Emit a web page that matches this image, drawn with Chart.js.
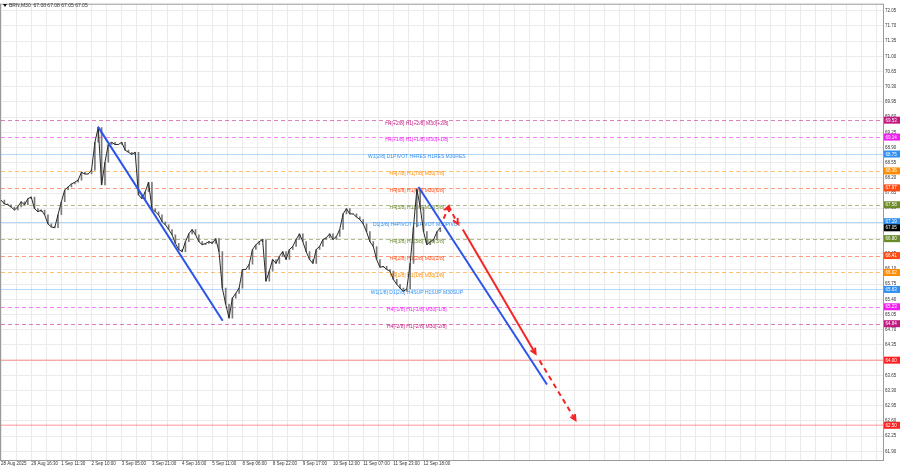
<!DOCTYPE html>
<html>
<head>
<meta charset="utf-8">
<script src="https://cdn.jsdelivr.net/npm/chart.js@4.4.1/dist/chart.umd.min.js"></script>
<style>
  html, body { margin: 0; padding: 0; background: #fff; }
</style>
</head>
<body>
<canvas id="chart" width="900" height="468"></canvas>
<script>
// price path, one close every ~3.4px of the picture
const closes = [
  67.69, 67.60, 67.58, 67.53, 67.46, 67.53, 67.65, 67.58, 67.72, 67.76,
  67.49, 67.42, 67.46, 67.35, 67.14, 67.07, 67.05, 67.35, 67.65, 67.92,
  67.99, 68.06, 68.10, 68.15, 68.33, 68.29, 68.29, 68.38, 69.02, 69.36,
  68.04, 68.56, 68.97, 69.02, 68.97, 68.97, 69.02, 68.84, 68.79, 68.74,
  68.79, 67.81, 67.72, 67.88, 68.10, 67.49, 67.42, 67.35, 67.19, 67.12,
  67.01, 66.89, 66.69, 66.55, 66.50, 66.73, 66.91, 67.01, 66.89, 66.73,
  66.66, 66.69, 66.73, 66.69, 66.80, 66.50, 65.66, 65.29, 64.97, 65.43,
  65.54, 65.66, 66.09, 66.09, 66.21, 66.55, 66.66, 66.73, 66.78, 65.82,
  66.05, 66.32, 66.23, 66.39, 66.50, 66.32, 66.55, 66.62, 66.78, 66.91,
  66.73, 66.50, 66.32, 66.23, 66.55, 66.62, 66.78, 66.82, 66.91, 66.78,
  66.85, 67.01, 67.37, 67.49, 67.37, 67.37, 67.30, 67.24, 67.14, 66.96,
  66.73, 66.62, 66.32, 66.14, 66.16, 66.09, 66.05, 65.86, 65.75, 65.66,
  65.59, 65.64, 66.23, 67.07, 67.94, 67.53, 66.96, 66.66, 66.73, 66.78,
  66.96, 67.05
];

const timeLabels = [
  "28 Aug 2025", "29 Aug 16:30", "1 Sep 11:30", "2 Sep 10:00", "3 Sep 05:00",
  "3 Sep 21:00", "4 Sep 16:00", "5 Sep 11:00", "8 Sep 06:00", "8 Sep 22:00",
  "9 Sep 17:00", "10 Sep 12:00", "11 Sep 07:00", "11 Sep 23:00", "12 Sep 18:00"
];

const priceTicks = [
  72.05, 71.70, 71.35, 71.00, 70.65, 70.30, 69.95, 69.60, 69.25, 68.90,
  68.55, 68.20, 67.85, 67.50, 67.15, 66.80, 66.45, 66.10, 65.75, 65.40,
  65.05, 64.70, 64.35, 64.00, 63.65, 63.30, 62.95, 62.60, 62.25, 61.90
];

// murrey levels
const levelPrices = [69.53, 69.14, 68.75, 68.36, 67.97, 67.58, 67.19, 66.80, 66.41, 66.02, 65.63, 65.23, 64.84];
const levelNames = [
  "H4[+2/8] H1[+2/8] M30[+2/8]",
  "H4[+1/8] H1[+1/8] M30[+1/8]",
  "W1[2/8] D1PIVOT H4RES H1RES M30RES",
  "H4[7/8] H1[7/8] M30[7/8]",
  "H4[6/8] H1[6/8] M30[6/8]",
  "H4[5/8] H1[5/8] M30[5/8]",
  "D1[3/8] H4PIVOT H1PIVOT M30PIVOT",
  "H4[3/8] H1[3/8] M30[3/8]",
  "H4[2/8] H1[2/8] M30[2/8]",
  "H4[1/8] H1[1/8] M30[1/8]",
  "W1[1/8] D1[2/8] H4SUP H1SUP M30SUP",
  "H4[-1/8] H1[-1/8] M30[-1/8]",
  "H4[-2/8] H1[-2/8] M30[-2/8]"
];
const targetPrices = [64.00, 62.50];
const lastPrice = 67.05;

// trend lines (x in bar units, y in price)
const blueAX = [28.9, 66.1], blueAY = [69.38, 64.91];
const blueBX = [124.5, 162.8], blueBY = [67.99, 63.44];
const redLegsX = [[132.0, 133.5], [133.5, 136.2], [137.7, 159.4], [160.6, 171.3]];
const redLegsY = [[67.26, 67.55], [67.55, 67.14], [67.01, 64.15], [63.99, 62.62]];

// styles
const levelColors = ['#c2187f', '#f21cf2', '#2f8ff0', '#ff8c00', '#ff4a14', '#6b8a2a', '#2f8ff0', '#6b8a2a', '#ff4a14', '#ff8c00', '#2f8ff0', '#f21cf2', '#c2187f'];
const levelSolid = [false, false, true, false, false, false, true, false, false, false, true, false, false];
const redLegDashed = [true, true, false, true];
const FONT = "Liberation Sans";
const X_MAX = 263;
const LABEL_X = 124;

const datasets = [{
  type: 'bar',
  // candle bodies: open = previous close
  data: closes.slice(1).map((c, i) => ({ x: i + 1, y: [closes[i], c] })),
  backgroundColor: '#7a7a7a', barThickness: 1, borderWidth: 0, order: 2
}, {
  data: closes.map((c, i) => ({ x: i, y: c })),
  borderColor: '#2a2a2a', borderWidth: 1, pointRadius: 0, tension: 0, order: 1
}, {
  data: blueAX.map((x, i) => ({ x: x, y: blueAY[i] })),
  borderColor: '#2a55e8', borderWidth: 2, pointRadius: 0, order: 0
}, {
  data: blueBX.map((x, i) => ({ x: x, y: blueBY[i] })),
  borderColor: '#2a55e8', borderWidth: 2, pointRadius: 0, order: 0
}];
redLegsX.forEach((xs, k) => {
  datasets.push({
    data: xs.map((x, i) => ({ x: x, y: redLegsY[k][i] })),
    borderColor: '#f52525', borderWidth: 2, pointRadius: 0,
    borderDash: redLegDashed[k] ? [5, 4] : [],
    arrowEnd: true, order: 0
  });
});

function priceBox(ctx, a, y, price, color) {
  const py = y.getPixelForValue(price);
  ctx.fillStyle = color;
  ctx.fillRect(a.right + 1, py - 3.5, 16, 7);
  ctx.fillStyle = '#fff';
  ctx.font = '4.5px ' + FONT;
  ctx.textBaseline = 'middle';
  ctx.textAlign = 'left';
  ctx.fillText(price.toFixed(2), a.right + 2.5, py + 0.3);
}

const overlay = {
  id: 'overlay',
  beforeDatasetsDraw(chart) {
    const { ctx, chartArea: a, scales: { y } } = chart;
    ctx.save();
    ctx.beginPath();
    ctx.rect(a.left, a.top, a.right - a.left, a.bottom - a.top);
    ctx.clip();
    levelPrices.forEach((p, k) => {
      const py = Math.round(y.getPixelForValue(p)) + 0.5;
      ctx.strokeStyle = levelColors[k];
      ctx.globalAlpha = levelSolid[k] ? 0.35 : 0.55;
      ctx.lineWidth = 1;
      ctx.setLineDash(levelSolid[k] ? [] : [4, 3]);
      ctx.beginPath(); ctx.moveTo(a.left, py); ctx.lineTo(a.right, py); ctx.stroke();
    });
    targetPrices.forEach(p => {
      const py = y.getPixelForValue(p);
      ctx.strokeStyle = '#ff3030';
      ctx.globalAlpha = 0.35;
      ctx.lineWidth = 1.5;
      ctx.setLineDash([]);
      ctx.beginPath(); ctx.moveTo(a.left, py); ctx.lineTo(a.right, py); ctx.stroke();
    });
    ctx.globalAlpha = 1;
    const lx = chart.scales.x.getPixelForValue(LABEL_X);
    ctx.font = '5px ' + FONT;
    ctx.textAlign = 'center';
    ctx.textBaseline = 'middle';
    levelPrices.forEach((p, k) => {
      ctx.fillStyle = levelColors[k];
      ctx.fillText(levelNames[k], lx, y.getPixelForValue(p) + 3);
    });
    ctx.restore();
  },
  afterDatasetsDraw(chart) {
    const ctx = chart.ctx;
    chart.data.datasets.forEach((ds, i) => {
      if (!ds.arrowEnd) return;
      const pts = chart.getDatasetMeta(i).data;
      const p1 = pts[pts.length - 2], p2 = pts[pts.length - 1];
      const ang = Math.atan2(p2.y - p1.y, p2.x - p1.x);
      ctx.save();
      ctx.strokeStyle = ds.borderColor;
      ctx.lineWidth = 2;
      ctx.setLineDash([]);
      ctx.beginPath();
      ctx.moveTo(p2.x - 6 * Math.cos(ang - 0.45), p2.y - 6 * Math.sin(ang - 0.45));
      ctx.lineTo(p2.x, p2.y);
      ctx.lineTo(p2.x - 6 * Math.cos(ang + 0.45), p2.y - 6 * Math.sin(ang + 0.45));
      ctx.stroke();
      ctx.restore();
    });
  },
  afterDraw(chart) {
    const { ctx, chartArea: a, scales: { y } } = chart;
    ctx.save();
    ctx.strokeStyle = '#9a9a9a';
    ctx.lineWidth = 1;
    ctx.strokeRect(a.left - 0.5, a.top - 0.5, a.right - a.left + 1, a.bottom - a.top + 1);
    levelPrices.forEach((p, k) => priceBox(ctx, a, y, p, levelColors[k]));
    targetPrices.forEach(p => priceBox(ctx, a, y, p, '#ff2020'));
    priceBox(ctx, a, y, lastPrice, '#000');
    // title
    ctx.fillStyle = '#111';
    ctx.beginPath();
    ctx.moveTo(3, 4); ctx.lineTo(7, 4); ctx.lineTo(5, 7); ctx.closePath(); ctx.fill();
    ctx.fillStyle = '#333';
    ctx.font = '5px ' + FONT;
    ctx.textAlign = 'left';
    ctx.textBaseline = 'middle';
    ctx.fillText('BRN,M30  67.08 67.08 67.05 67.05', 9, 5.5);
    ctx.restore();
  }
};

new Chart(document.getElementById('chart'), {
  type: 'line',
  data: { datasets: datasets },
  options: {
    responsive: false,
    animation: false,
    events: [],
    layout: { padding: { top: 2, left: 1, right: 0, bottom: 0 } },
    plugins: { legend: { display: false }, tooltip: { enabled: false } },
    scales: {
      x: {
        type: 'linear', min: 0, max: X_MAX, offset: false,
        afterBuildTicks: s => {
          s.ticks = [];
          for (let v = 0; v <= X_MAX; v += 4.5) s.ticks.push({ value: v });
        },
        afterFit: s => { s.height = 8; },
        grid: { color: '#ebebeb', drawTicks: false, offset: false },
        border: { display: false },
        ticks: {
          autoSkip: false, maxRotation: 0, align: 'start', padding: 1,
          color: '#333', font: { family: FONT, size: 4.5 },
          callback: (v, i) => (i % 2 === 0 && i / 2 < timeLabels.length) ? timeLabels[i / 2] : ''
        }
      },
      y: {
        type: 'linear', position: 'right', min: 61.70, max: 72.19,
        afterBuildTicks: s => { s.ticks = priceTicks.map(v => ({ value: v })); },
        afterFit: s => { s.width = 17; },
        grid: { color: '#ebebeb', drawTicks: false },
        border: { display: false },
        ticks: {
          padding: 2, color: '#333', font: { family: FONT, size: 4.5 },
          callback: v => v.toFixed(2)
        }
      }
    }
  },
  plugins: [overlay]
});
</script>
</body>
</html>
